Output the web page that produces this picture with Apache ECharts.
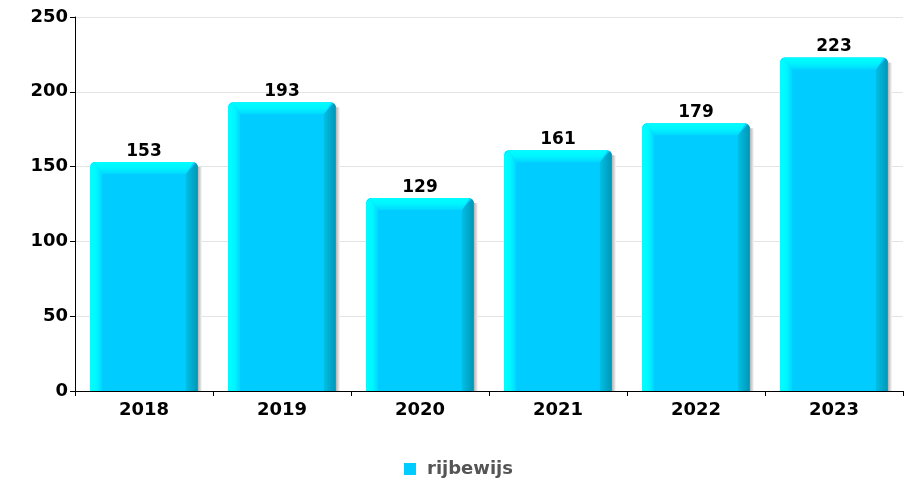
<!DOCTYPE html>
<html>
<head>
<meta charset="utf-8">
<script src="https://cdn.jsdelivr.net/npm/echarts@6/dist/echarts.min.js"></script>
<style>html,body{margin:0;padding:0;background:#fff}#c{width:917px;height:478px}</style>
</head>
<body>
<div id="c"></div>
<script>
const categories = ['2018', '2019', '2020', '2021', '2022', '2023'];
const values = [153, 193, 129, 161, 179, 223];
const seriesName = 'rijbewijs';
const yTicks = [0, 50, 100, 150, 200, 250];

const FONT = 'DejaVu Sans';
const chart = echarts.init(document.getElementById('c'), null, {renderer: 'canvas'});

function renderItem(params, api) {
  const idx = api.value(0), v = api.value(1);
  const top = api.coord([idx, v]);
  const base = api.coord([idx, 0]);
  const bw = api.size([1, 0])[0] * 0.78;
  const x0 = top[0] - bw / 2, x1 = top[0] + bw / 2;
  const y0 = top[1], y1 = base[1];
  const b = 12;
  const lg = (x, y, x2, y2, stops) => new echarts.graphic.LinearGradient(x, y, x2, y2, stops.map((c, i) => ({offset: c[0], color: c[1]})));
  return {
    type: 'group',
    children: [
      {type: 'rect', shape: {x: x1, y: y0 + 5, width: 4, height: y1 - y0 - 5},
        style: {fill: lg(0, 0, 1, 0, [[0, '#b0b0b0'], [1, '#f6f6f6']])}},
      {type: 'rect', shape: {x: x0, y: y0, width: bw, height: y1 - y0, r: [5, 5, 0, 0]},
        style: {fill: '#00ccff'}},
      {type: 'polygon', shape: {points: [[x1 - 2, y0 + 1], [x1, y0 + 4], [x1, y1], [x1 - b, y1], [x1 - b, y0 + b]]},
        style: {fill: lg(0, 0, 1, 0, [[0, '#00c0e6'], [1, '#0096b6']])}},
      {type: 'polygon', shape: {points: [[x0 + 4, y0], [x1 - 4, y0], [x1 - b, y0 + b], [x0 + b, y0 + b]]},
        style: {fill: lg(0, 0, 0, 1, [[0, '#00ffff'], [0.5, '#00f4ff'], [1, '#00d8ff']])}},
      {type: 'polygon', shape: {points: [[x0, y0 + 4], [x0 + 4, y0], [x0 + b, y0 + b], [x0 + b, y1], [x0, y1]]},
        style: {fill: lg(0, 0, 1, 0, [[0, '#00ffff'], [0.55, '#00f6ff'], [1, '#00d6ff']])}},
      {type: 'text', style: {text: String(v), x: top[0], y: y0 - 2, align: 'center', verticalAlign: 'bottom',
        font: 'bold 17px "DejaVu Sans"', fill: '#000'}}
    ]
  };
}

chart.setOption({
  animation: false,
  backgroundColor: '#fff',
  grid: {left: 75, right: 14, top: 17, bottom: 87},
  xAxis: {
    type: 'category', data: categories,
    axisLine: {lineStyle: {color: '#000', width: 1}},
    axisTick: {show: true, length: 5, lineStyle: {color: '#000'}},
    axisLabel: {color: '#000', fontFamily: FONT, fontWeight: 'bold', fontSize: 18, margin: 10},
    splitLine: {show: false}
  },
  yAxis: {
    type: 'value', min: yTicks[0], max: yTicks[yTicks.length - 1], interval: 50,
    axisLine: {show: true, lineStyle: {color: '#000', width: 1}},
    axisTick: {show: true, length: 5, lineStyle: {color: '#000'}},
    axisLabel: {color: '#000', fontFamily: FONT, fontWeight: 'bold', fontSize: 18, margin: 7},
    splitLine: {show: true, lineStyle: {color: '#e4e4e4', width: 1}}
  },
  legend: {
    top: 455, left: 'center', itemWidth: 12, itemHeight: 12, itemGap: 10,
    icon: 'rect',
    data: [seriesName],
    textStyle: {color: '#555', fontFamily: FONT, fontWeight: 'bold', fontSize: 18, padding: [0, 0, 0, 6]}
  },
  series: [{
    type: 'custom', name: seriesName,
    itemStyle: {color: '#00ccff'},
    renderItem: renderItem,
    encode: {x: 0, y: 1},
    data: values.map((v, i) => [i, v])
  }]
});
</script>
</body>
</html>
